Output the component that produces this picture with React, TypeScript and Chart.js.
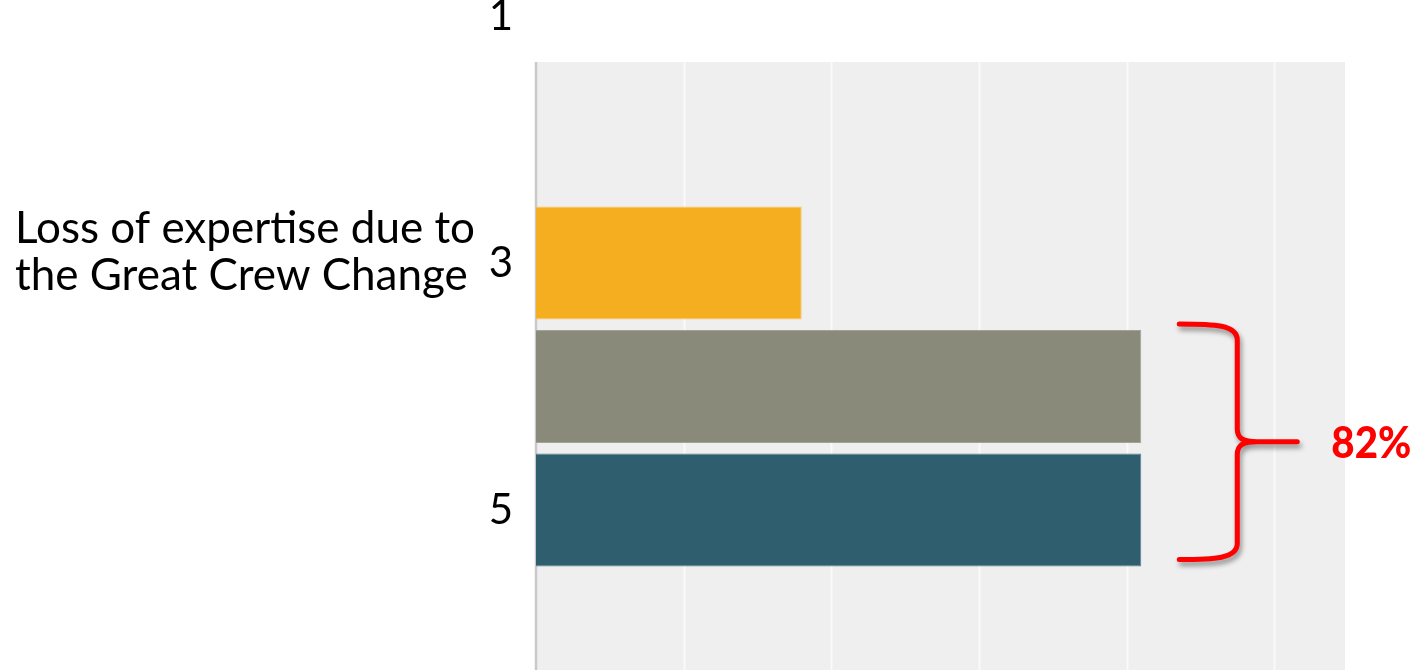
import React, { useEffect, useRef } from 'react';
import { Chart, registerables } from 'chart.js';

Chart.register(...registerables);

// ---- data ----
const categories: string[] = ['1', '2', '3', '4', '5'];
const values: (number | null)[] = [null, null, 18, 41, 41];
const barColors: string[] = ['#F6AE21', '#F6AE21', '#F6AE21', '#8A8A7A', '#2F5F6E'];
const barBorderColors: string[] = ['#F9C768', '#F9C768', '#F9C768', '#A3A395', '#5B8290'];
const shownTickLabels: string[] = ['1', '3', '5'];
const rowLabelLines: string[] = ['Loss of expertise due to', 'the Great Crew Change'];
const bracketIndices: number[] = [3, 4];
const xMax = 54.8;
const xStep = 10;

const FONT = 'Lato, "Open Sans", "DejaVu Sans", sans-serif';

const decorPlugin = {
  id: 'decor',
  beforeDatasetsDraw(chart: any) {
    const { ctx } = chart;
    const x = chart.scales.x;
    const top = 62;
    const bottom = chart.height;
    const left = x.getPixelForValue(0);
    const right = x.getPixelForValue(xMax);
    ctx.save();
    ctx.fillStyle = '#EFEFEF';
    ctx.fillRect(left, top, right - left, bottom - top);
    ctx.strokeStyle = '#FAFAFA';
    ctx.lineWidth = 2;
    for (let v = xStep; v < xMax; v += xStep) {
      const px = Math.round(x.getPixelForValue(v)) + 0.5;
      ctx.beginPath();
      ctx.moveTo(px, top);
      ctx.lineTo(px, bottom);
      ctx.stroke();
    }
    ctx.strokeStyle = '#C9C9C9';
    ctx.lineWidth = 2.5;
    ctx.beginPath();
    ctx.moveTo(left, top);
    ctx.lineTo(left, bottom);
    ctx.stroke();
    ctx.restore();
  },
  afterDatasetsDraw(chart: any) {
    const { ctx } = chart;
    const y = chart.scales.y;
    const meta = chart.getDatasetMeta(0);
    const a = meta.data[bracketIndices[0]];
    const b = meta.data[bracketIndices[1]];
    const barEnd = Math.max(a.x, b.x);
    const yTop = a.y - a.height / 2 - 6;
    const yBot = b.y + b.height / 2 - 7;
    const yMid = (yTop + yBot) / 2;
    const x0 = barEnd + 38;
    const xv = barEnd + 96;
    const xTip = barEnd + 156;

    ctx.save();
    ctx.strokeStyle = '#FF0000';
    ctx.lineWidth = 5;
    ctx.lineCap = 'round';
    ctx.lineJoin = 'round';
    ctx.shadowColor = 'rgba(0,0,0,0.4)';
    ctx.shadowBlur = 5;
    ctx.shadowOffsetX = 2;
    ctx.shadowOffsetY = 4;
    ctx.beginPath();
    ctx.moveTo(x0, yTop);
    ctx.bezierCurveTo(x0 + 35, yTop, xv, yTop + 1, xv, yTop + 16);
    ctx.lineTo(xv, yMid - 13);
    ctx.bezierCurveTo(xv, yMid - 3, xv + 6, yMid, xv + 20, yMid);
    ctx.lineTo(xTip, yMid);
    ctx.moveTo(xv + 20, yMid);
    ctx.bezierCurveTo(xv + 6, yMid, xv, yMid + 3, xv, yMid + 13);
    ctx.lineTo(xv, yBot - 16);
    ctx.bezierCurveTo(xv, yBot - 1, x0 + 35, yBot, x0, yBot);
    ctx.stroke();
    ctx.restore();

    const total = (values[bracketIndices[0]] || 0) + (values[bracketIndices[1]] || 0);
    ctx.save();
    ctx.fillStyle = '#FF0000';
    ctx.font = '900 43px ' + FONT;
    ctx.textAlign = 'left';
    ctx.textBaseline = 'alphabetic';
    const tw = ctx.measureText(total + '%').width;
    const tsx = Math.min(1, 80 / tw);
    ctx.translate(xTip + 34, yMid + 16);
    ctx.scale(tsx, 1);
    ctx.fillText(total + '%', 0, 0);
    ctx.restore();

    // row label on the left
    const cy = y.getPixelForValue(2);
    ctx.save();
    ctx.fillStyle = '#000000';
    ctx.font = '44px ' + FONT;
    ctx.textAlign = 'left';
    ctx.textBaseline = 'alphabetic';
    const w = ctx.measureText(rowLabelLines[0]).width;
    const sx = Math.min(1, 460 / w);
    rowLabelLines.forEach((line, i) => {
      ctx.save();
      ctx.translate(15, cy - 20 + i * 47);
      ctx.scale(sx, 1);
      ctx.fillText(line, 0, 0);
      ctx.restore();
    });
    ctx.restore();
  },
};

export default function App() {
  const canvasRef = useRef<HTMLCanvasElement | null>(null);

  useEffect(() => {
    if (!canvasRef.current) return;
    const chart = new Chart(canvasRef.current, {
      type: 'bar',
      data: {
        labels: categories,
        datasets: [
          {
            data: values,
            backgroundColor: barColors,
            borderColor: barBorderColors,
            borderWidth: 1,
            categoryPercentage: 1,
            barPercentage: 0.917,
            clip: false,
          } as any,
        ],
      },
      options: {
        indexAxis: 'y',
        responsive: false,
        animation: false,
        devicePixelRatio: 1,
        layout: { padding: { top: 16, bottom: 160, left: 0, right: 73 } },
        plugins: {
          legend: { display: false },
          tooltip: { enabled: false },
        },
        scales: {
          x: {
            type: 'linear',
            min: 0,
            max: xMax,
            display: false,
            ticks: { stepSize: xStep },
          },
          y: {
            type: 'category',
            offset: false,
            grid: { display: false, drawTicks: false },
            border: { display: false },
            afterFit: (scale: any) => {
              scale.width = 536;
              scale.paddingTop = 0;
              scale.paddingBottom = 0;
            },
            ticks: {
              autoSkip: false,
              padding: 23,
              color: '#000000',
              font: { family: FONT, size: 42 },
              callback: (_v: any, idx: number) =>
                shownTickLabels.includes(categories[idx]) ? categories[idx] : '',
            },
          },
        },
      } as any,
      plugins: [decorPlugin],
    });
    return () => chart.destroy();
  }, []);

  return (
    <div style={{ position: 'absolute', left: 0, top: 0, width: 1418, height: 670, background: '#ffffff' }}>
      <canvas ref={canvasRef} width={1418} height={670} style={{ display: 'block' }} />
    </div>
  );
}
